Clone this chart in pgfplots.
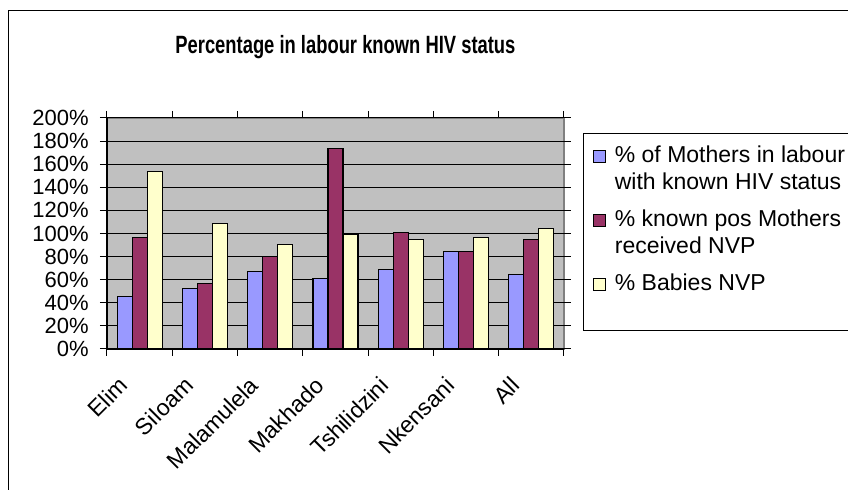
\documentclass[border=0pt]{standalone}
\usepackage{pgfplots}
\pgfplotsset{compat=1.18}
\usepackage{graphicx}
\usepackage{fontspec}
\setmainfont{Liberation Sans}
\definecolor{sblue}{HTML}{9999FF}
\definecolor{sred}{HTML}{993366}
\definecolor{syel}{HTML}{FFFFCC}
\definecolor{pgray}{HTML}{C0C0C0}
\definecolor{fgray}{HTML}{808080}
\newcommand\two[2]{\vtop{\baselineskip=13.5pt\lineskiplimit=-20pt\hbox{#1}\hbox{#2}}}
\begin{document}
\begin{tikzpicture}
\path[use as bounding box] (0,0) rectangle (424pt,-245pt);
\clip (0,0) rectangle (424pt,-245pt);
\fill[white] (0,0) rectangle (424pt,-245pt);
\draw[line width=0.7pt] (4.2pt,-500pt) -- (4.2pt,-5.3pt) -- (500pt,-5.3pt);
% legend frame
\draw[line width=0.5pt, fill=white] (291.5pt,-67pt) rectangle (440pt,-165.5pt);
\node[anchor=base west, inner sep=0pt, font=\bfseries\fontsize{12.5pt}{14pt}\selectfont]
  at (87.5pt,-26.6pt) {\scalebox{0.735}[1]{Percentage in labour known HIV status}};
\begin{axis}[
  at={(53.5pt,-174.5pt)}, anchor=south west,
  scale only axis, width=228.5pt, height=115.5pt,
  xmin=-0.5, xmax=6.5, ymin=0, ymax=200,
  ybar=0pt, bar width=7.5pt,
  axis line style={draw=none},
  axis background/.style={fill=pgray, draw=fgray, line width=0.8pt},
  ymajorgrids, major grid style={black, line width=0.5pt},
  ytick={0,20,...,200},
  yticklabel={\pgfmathprintnumber{\tick}\%},
  /pgf/number format/assume math mode=true,
  tick align=outside, major tick length=3.5pt,
  tick style={black, line width=0.5pt},
  xtick={-0.5,0.5,...,6.5}, xticklabels={},
  extra x ticks={0,1,...,6},
  extra x tick labels={Elim,Siloam,Malamulela,Makhado,Tshilidzini,Nkensani,All},
  extra x tick style={major tick length=0pt, grid=none},
  xticklabel style={font=\fontsize{11.5pt}{13pt}\selectfont, inner sep=0pt, anchor=north east, xshift=-11pt, yshift=-13pt, rotate=45},
  yticklabel style={font=\fontsize{11pt}{13pt}\selectfont, inner sep=0pt, anchor=east, xshift=-5.5pt},
  legend style={at={(1.0416,0.9307)}, anchor=north west, draw=none, fill=none,
    inner xsep=5pt, inner ysep=4.5pt, row sep=0pt, column sep=4.5pt,
    nodes={inner sep=0pt, text height=9.45pt, text depth=22.55pt},
    font=\fontsize{11.5pt}{13.5pt}\selectfont},
  legend cell align=left,
  legend image code/.code={\draw[#1, line width=0.5pt] (0pt,6.5pt) rectangle (5.75pt,12.25pt);},
  after end axis/.code={\draw[black, line width=0.6pt] (rel axis cs:0,1) -- (rel axis cs:0,0) -- (rel axis cs:1,0);},
]
\addplot[draw=black, line width=0.6pt, fill=sblue] coordinates {(0,45.7) (1,52.1) (2,67.4) (3,61.1) (4,68.9) (5,84.2) (6,64.3)};
\addlegendentry{\two{\% of Mothers in labour}{with known HIV status}}
\addplot[draw=black, line width=0.6pt, fill=sred] coordinates {(0,96.7) (1,56.7) (2,79.9) (3,173.7) (4,101.0) (5,84.2) (6,94.9)};
\addlegendentry{\two{\% known pos Mothers}{received NVP}}
\addplot[draw=black, line width=0.6pt, fill=syel] coordinates {(0,153.7) (1,108.8) (2,90.6) (3,99.6) (4,94.9) (5,96.7) (6,104.5)};
\addlegendentry{\% Babies NVP}
\end{axis}
\end{tikzpicture}
\end{document}
